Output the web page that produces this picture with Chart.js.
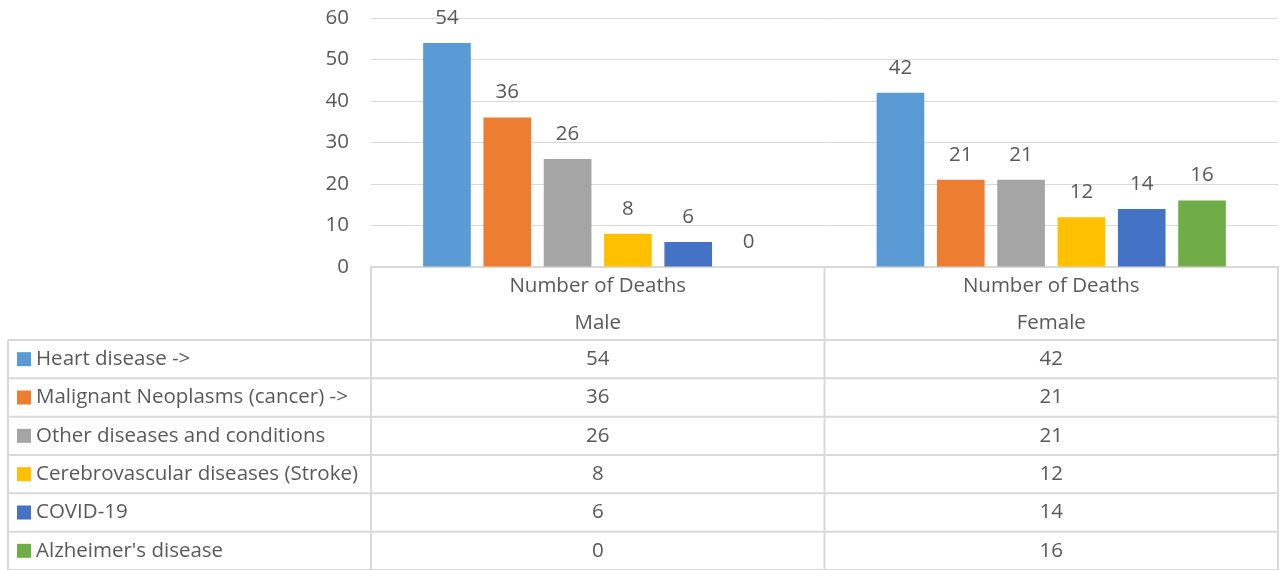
<!DOCTYPE html>
<html>
<head>
<meta charset="utf-8">
<script src="https://cdn.jsdelivr.net/npm/chart.js@4"></script>
<style>
  body{margin:0;background:#fff;}
  .wrap{width:1280px;height:570px;position:relative;}
</style>
</head>
<body>
<div class="wrap"><canvas id="myChart" width="1280" height="570"></canvas></div>
<script>
// ***********data***********
const categories=['Male','Female'];
const groupTitle='Number of Deaths';
const seriesNames=['Heart disease ->','Malignant Neoplasms (cancer) ->','Other diseases and conditions','Cerebrovascular diseases (Stroke)','COVID-19',"Alzheimer's disease"];
const heartDisease=[54,42];
const cancer=[36,21];
const otherDiseases=[26,21];
const stroke=[8,12];
const covid=[6,14];
const alzheimers=[0,16];
const yTicks=[0,10,20,30,40,50,60];
const colors=['#5B9BD5','#ED7D31','#A5A5A5','#FFC000','#4472C4','#70AD47'];

const seriesValues=[heartDisease,cancer,otherDiseases,stroke,covid,alzheimers];
const FONT='"Open Sans", Lato, sans-serif';
const FSIZE=20.5;
const TEXT='#595959';
const LINE='#D9D9D9';

// ********labels + data table plugin******
const tablePlugin={
  id:'tablePlugin',
  afterDraw(chart){
    const ctx=chart.ctx;
    const area=chart.chartArea;
    const x=chart.scales.x;
    const catW=x.width/categories.length;
    const tableLeft=8, headTop=area.bottom, rowsTop=340, rowH=(570-rowsTop)/seriesNames.length;
    ctx.save();
    // data labels above bars
    ctx.font=FSIZE+'px '+FONT;
    ctx.fillStyle=TEXT;
    ctx.textAlign='center';
    ctx.textBaseline='middle';
    chart.data.datasets.forEach((ds,i)=>{
      chart.getDatasetMeta(i).data.forEach((bar,j)=>{
        ctx.fillText(String(ds.data[j]),bar.x,bar.y-25);
      });
    });
    // grid lines of table
    ctx.strokeStyle=LINE;
    ctx.lineWidth=2;
    ctx.beginPath();
    for(let r=0;r<=seriesNames.length;r++){
      const yy=rowsTop+r*rowH;
      ctx.moveTo(tableLeft,yy);ctx.lineTo(area.right,yy);
    }
    ctx.moveTo(tableLeft,rowsTop);ctx.lineTo(tableLeft,570);
    for(let c=0;c<=categories.length;c++){
      const xx=area.left+c*catW;
      ctx.moveTo(xx,headTop);ctx.lineTo(xx,570);
    }
    ctx.stroke();
    // header cells
    ctx.fillStyle=TEXT;
    categories.forEach((cat,j)=>{
      const cx=x.getPixelForValue(j);
      ctx.fillText(groupTitle,cx,286);
      ctx.fillText(cat,cx,323);
    });
    // rows
    seriesNames.forEach((name,i)=>{
      const cy=rowsTop+i*rowH+rowH/2;
      ctx.fillStyle=colors[i];
      ctx.fillRect(17,cy-7,14,14);
      ctx.fillStyle=TEXT;
      ctx.textAlign='left';
      ctx.fillText(name,36,cy);
      ctx.textAlign='center';
      seriesValues[i].forEach((v,j)=>{
        ctx.fillText(String(v),x.getPixelForValue(j),cy);
      });
    });
    ctx.restore();
  }
};

// ********chart******
const ctx=document.getElementById('myChart');
new Chart(ctx,{
  type:'bar',
  data:{
    labels:categories,
    datasets:seriesNames.map((n,i)=>({
      label:n,
      data:seriesValues[i],
      backgroundColor:colors[i],
      borderWidth:0,
      categoryPercentage:0.798,
      barPercentage:0.79
    }))
  },
  options:{
    responsive:false,
    animation:false,
    layout:{padding:{top:18,right:2,left:0,bottom:0}},
    plugins:{legend:{display:false},tooltip:{enabled:false}},
    scales:{
      x:{
        ticks:{display:false},
        grid:{display:false,drawTicks:false},
        border:{color:LINE,width:2},
        afterFit(s){s.height=303;}
      },
      y:{
        min:0,max:60,
        afterBuildTicks(s){s.ticks=yTicks.map(v=>({value:v}));},
        ticks:{color:TEXT,font:{family:FONT,size:FSIZE},padding:0},
        grid:{color:LINE,lineWidth:1,drawTicks:true,tickLength:22,tickColor:'rgba(0,0,0,0)'},
        border:{display:false},
        afterFit(s){s.width=371;}
      }
    }
  },
  plugins:[tablePlugin]
});
</script>
</body>
</html>
